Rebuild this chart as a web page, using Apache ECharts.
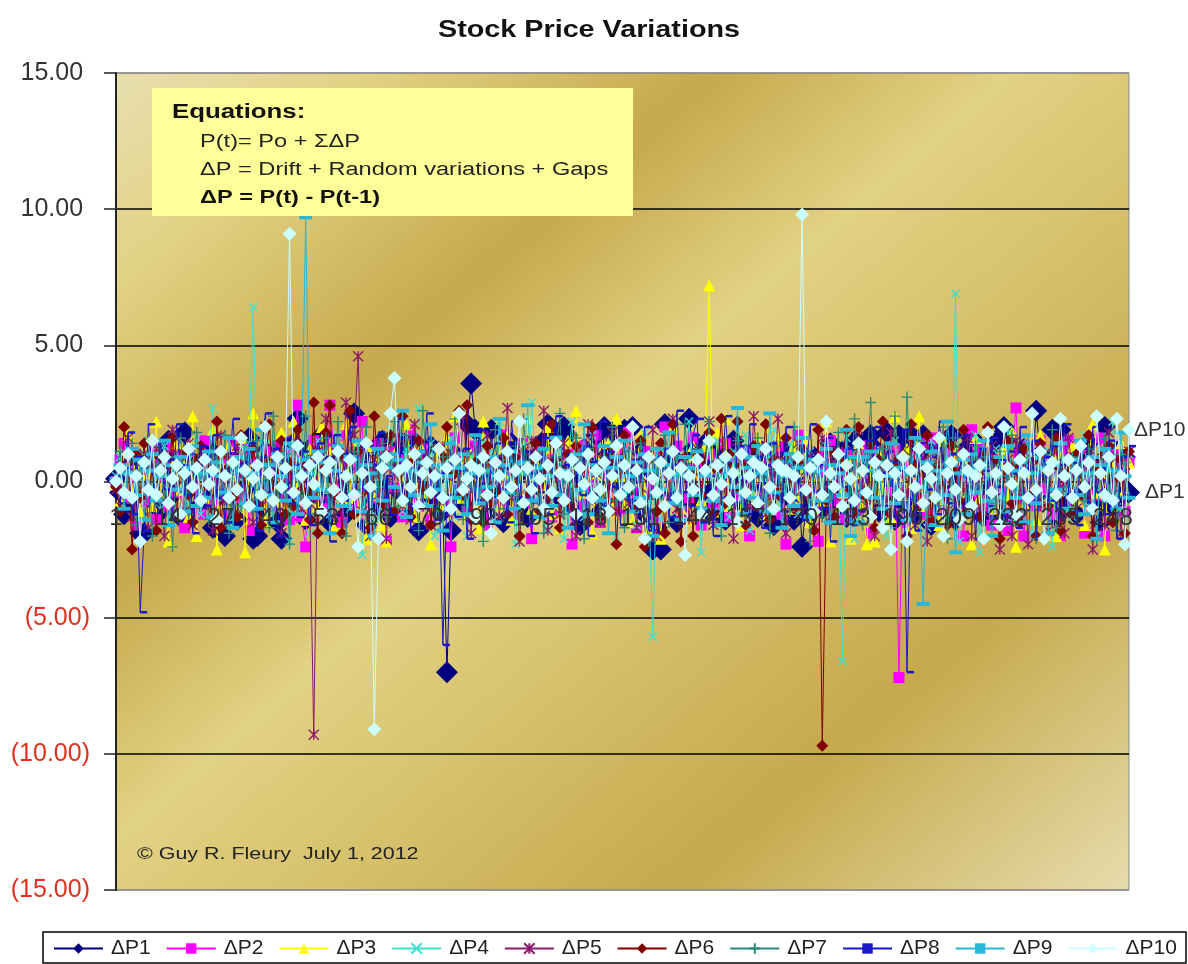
<!DOCTYPE html>
<html><head><meta charset="utf-8">
<script src="https://cdn.jsdelivr.net/npm/echarts@6/dist/echarts.min.js"></script>
<style>html,body{margin:0;padding:0;background:#fff}#c{width:1188px;height:964px}</style>
</head><body><div id="c"></div>
<script>
const title = "Stock Price Variations";
const yTicks = [-15,-10,-5,0,5,10,15];
const POINTS = 252;
const categories = Array.from({length:POINTS},(_,i)=>String(i+1));
const seriesNames = ["ΔP1","ΔP2","ΔP3","ΔP4","ΔP5","ΔP6","ΔP7","ΔP8","ΔP9","ΔP10"];

const p1 = [0.1,-0.4,-1.2,0.6,-0.9,1.3,-1.9,-1.2,0.4,-0.7,1.1,-1.1,0.3,1.5,-0.5,0.9,-1.3,1.8,-0.2,0.7,-1.0,
0.5,-0.6,1.2,-1.7,0.2,0.9,-2.0,-0.8,1.0,-1.4,0.6,-0.3,1.6,-2.1,0.4,-0.9,1.1,-0.1,0.8,-1.5,2.3,-0.6,0.3,1.4,
-1.1,0.7,-1.4,1.2,-0.4,0.9,1.7,-0.8,-1.5,0.2,1.0,-0.3,-1.2,0.6,2.5,-0.7,1.1,-1.6,0.4,0.8,-0.9,1.5,-0.2,-1.3,0.7,
1.2,-0.5,-1.0,1.6,0.3,-1.8,0.9,-0.4,1.3,-0.6,0.2,-1.1,-1.8,-1.8,1.0,0.5,-0.8,2.1,2.1,1.9,-0.3,0.7,-1.2,1.1,-0.5,
0.4,-1.5,0.9,1.4,-0.7,0.3,1.0,-1.3,0.6,0.9,-0.2,1.5,-1.0,1.9,0.4,-0.6,2.0,1.7,-0.9,0.2,-1.6,1.2,0.7,-0.4,1.7,
-1.1,0.5,1.0,-1.4,0.8,-0.3,1.9,-0.7,2.0,0.3,1.1,-1.2,0.6,-2.5,-1.7,1.3,2.1,-0.5,0.9,-1.5,0.4,-0.8,2.3,1.2,-0.6,
0.7,1.4,-1.1,-0.3,1.2,0.5,-1.4,0.9,1.5,-0.7,0.2,1.0,-0.9,0.6,-1.3,1.1,-0.2,0.8,-1.6,0.4,1.2,-0.5,0.7,-1.4,0.3,
1.3,-0.8,-1.2,0.9,0.4,-1.0,-0.4,1.4,-0.6,0.8,1.1,-1.3,0.5,1.5,-0.9,0.2,-0.6,1.7,1.2,-1.1,0.6,1.8,-0.3,-1.4,1.7,
-0.8,0.5,1.7,-1.2,0.9,-0.5,1.3,-1.6,0.3,1.0,-0.7,1.4,0.6,-1.4,0.2,1.1,-0.9,1.6,-0.4,0.7,-1.3,0.9,-0.2,1.5,-0.6,
2.0,1.6,-1.3,-0.4,0.8,1.2,-0.7,0.3,-1.3,1.0,-0.5,0.6,1.9,-0.3,0.9,-0.7,-0.4,
0.6,-1.2,1.0,-0.3,1.4,-0.8,0.5,-1.5,2.0,0.2,-0.9,1.1,-0.6,0.9,0.3,-1.0];
const p2 = [0.0,0.8,1.4,-0.6,0.4,-1.6,1.0,-0.7,0.3,1.2,-1.4,0.6,0.2,-0.9,1.3,-0.4,0.9,-1.7,1.1,-0.3,0.5,
-1.2,1.5,0.2,-0.8,1.0,-0.5,0.7,-1.1,1.4,0.3,-0.6,1.2,-1.8,0.9,0.4,-0.2,1.1,-0.9,0.5,1.3,-0.7,0.2,-1.4,1.0,
2.8,-1.3,-2.4,0.6,1.5,-0.5,0.9,-1.0,0.4,1.2,-0.3,-1.5,1.7,0.5,-0.8,0.9,2.2,-1.2,0.3,-0.6,1.4,0.7,-2.2,1.1,-0.2,
0.8,-1.3,0.4,1.9,-0.5,-0.9,1.2,0.6,-1.4,0.3,1.1,-0.7,0.5,-2.4,1.6,-0.3,0.9,-1.1,0.7,1.3,-0.4,0.2,-1.6,1.0,0.6,
-0.8,1.7,-0.2,0.4,-1.2,0.9,1.4,-0.6,-2.1,0.3,1.1,-0.5,0.8,-1.3,1.5,0.2,-0.7,1.0,-2.3,0.6,1.3,-0.9,0.4,-0.2,1.7,
-1.5,0.7,0.3,-0.6,1.2,-1.0,0.5,1.8,-0.4,-1.7,0.8,1.1,-0.3,0.6,-1.4,0.9,2.0,-0.7,0.2,1.3,-1.1,0.5,-0.6,1.6,0.7,
-1.6,0.3,1.0,-0.8,0.4,-0.2,1.4,-1.3,0.9,0.6,-0.5,1.1,-2.0,0.7,0.3,-0.9,1.2,-0.4,0.5,1.3,-1.2,-2.3,0.8,-0.6,1.7,
1.2,-0.3,0.6,-1.1,-2.2,0.9,0.4,1.5,-0.7,0.2,-1.4,1.0,-0.5,0.8,-1.0,1.3,0.3,-1.9,0.7,1.1,0.4,-0.4,0.6,1.2,-0.8,
0.5,-1.5,0.9,0.2,-0.6,1.4,-1.2,0.7,1.6,-0.3,-1.0,0.4,1.1,-0.7,0.8,-2.0,0.6,1.9,-0.5,1.2,-0.9,0.3,-1.6,0.8,0.5,
-0.4,-1.8,1.0,0.7,-0.6,-2.0,1.3,0.2,-0.9,1.5,-0.3,0.6,-1.2,0.9,-2.0,1.1,1.5,
-0.7,0.4,1.2,-1.9,0.6,0.2,-0.5,1.6,-2.0,0.9,-0.3,1.0,0.4,-1.1,0.7,1.5];
const p3 = [-0.1,-0.7,0.9,1.7,-0.4,0.5,-1.1,1.2,0.3,-0.9,2.2,-0.5,1.0,-2.2,0.6,1.4,-0.3,0.8,-1.3,2.4,-2.0,
1.1,-0.6,0.4,1.9,-2.5,0.7,-0.8,1.3,0.2,-1.2,1.6,-2.6,0.5,2.5,-0.4,1.0,-1.5,0.3,0.9,-0.7,1.8,-1.0,0.6,2.2,
-0.2,0.8,-1.4,1.2,0.5,-0.9,2.0,-0.3,1.1,-1.7,0.7,0.3,2.1,-0.6,1.5,-1.1,0.4,-2.1,1.3,-0.5,0.9,-1.6,-2.2,0.6,1.0,
0.2,-0.8,2.1,0.5,-1.3,1.4,-0.4,0.7,-2.3,1.1,0.3,-0.9,1.6,-0.2,2.4,-0.6,0.8,-1.2,1.0,0.4,-1.7,2.2,-0.5,0.6,1.2,
-0.9,0.3,1.7,-1.4,0.5,-0.3,1.3,2.3,-1.0,0.7,0.2,-0.6,2.0,-1.2,0.9,-1.7,0.4,1.5,-0.7,2.6,0.6,-0.4,1.1,-1.9,0.3,
0.8,-0.5,1.4,-1.1,2.3,0.2,-0.8,1.0,-1.5,0.6,1.7,-0.3,-1.8,0.7,0.4,-2.1,1.2,-0.6,2.0,0.5,-1.0,0.9,-1.4,1.3,0.3,
-0.7,1.3,0.6,-1.1,1.8,-0.4,2.3,-0.9,0.5,1.1,-1.6,0.3,0.8,-0.5,1.5,0.2,-1.2,2.0,0.7,1.7,-0.3,0.9,-1.0,1.3,-0.6,
0.4,1.6,-1.5,0.2,0.8,-0.7,2.2,-2.2,0.6,1.1,-0.4,0.9,-2.1,0.3,1.4,-0.8,-2.3,0.5,-2.2,1.0,-0.3,0.7,-1.3,2.4,0.2,
-0.5,1.2,-1.7,0.6,2.4,-0.9,0.3,1.0,-0.4,-1.6,1.5,0.5,-0.7,1.3,-1.1,0.8,0.2,-2.3,1.6,-0.6,0.4,1.9,-0.3,-1.0,0.7,
1.2,-0.5,1.8,-2.4,0.6,-0.8,1.1,0.3,-1.4,1.7,0.5,-0.6,1.0,-2.0,0.9,0.4,-0.2,
1.3,-0.7,0.5,-1.6,0.8,2.1,-0.4,0.3,-2.5,1.0,0.6,-0.9,1.4,-0.3,0.7,-1.1];
const p4 = [0.2,0.9,-0.5,0.4,-1.3,0.8,1.1,-0.7,1.5,-0.2,0.6,-1.0,1.3,-1.6,0.3,0.7,-0.4,1.0,-0.8,0.5,1.6,
-1.2,0.4,0.9,2.7,-0.6,1.1,-0.3,-1.5,0.7,0.2,1.2,-0.9,1.4,1.0,-0.5,0.8,1.6,-1.1,0.3,0.6,-0.4,1.3,-2.2,0.9,
0.1,-0.7,1.0,-1.9,0.5,1.5,-0.3,0.8,-1.2,0.4,1.7,-0.6,0.2,-1.0,0.9,1.3,-2.7,0.6,-0.5,1.1,-1.4,0.3,0.7,1.9,-0.8,
0.4,-1.1,1.2,-0.2,0.5,2.7,-0.9,0.6,1.4,-2.0,0.2,-0.5,0.8,1.6,-1.3,0.7,0.3,-2.0,1.0,-0.6,0.4,1.5,-0.8,1.1,-0.3,
2.2,0.5,-1.2,0.9,-2.3,0.6,1.3,-0.4,2.9,0.2,-0.7,1.0,-1.7,0.5,-0.3,1.2,-2.1,0.8,2.2,-0.6,0.4,-1.3,0.9,1.7,-0.2,
0.7,-1.0,0.3,1.4,-2.0,0.6,-0.5,1.1,0.2,-1.6,0.8,1.8,-0.7,-1.7,0.4,-1.4,0.5,1.3,-0.3,0.9,-1.1,0.6,2.2,-0.4,1.0,
-2.6,0.3,0.7,-0.9,1.5,-0.2,0.8,-1.3,1.1,0.4,-0.6,1.7,-1.8,0.5,0.2,1.2,-0.7,0.9,1.9,-1.0,0.3,-0.5,1.4,0.6,-1.2,
0.6,0.4,1.1,-0.8,0.7,-0.3,1.3,-1.5,0.2,0.9,-0.6,1.6,0.5,-2.1,1.0,-0.4,0.8,-1.1,0.3,1.2,-0.7,-2.0,0.6,1.5,-0.2,
0.4,-1.4,0.9,-0.5,1.1,0.7,-1.7,1.5,0.5,0.2,-0.8,1.3,-1.2,0.6,-2.2,1.0,0.3,-0.4,1.7,-2.6,0.8,0.4,-1.0,1.2,-0.6,
0.2,1.9,-1.5,0.7,-0.3,0.5,1.4,-1.9,0.9,-0.6,1.1,0.3,-2.4,0.7,1.5,-0.5,0.2,
-1.3,0.8,0.4,1.7,-0.9,0.5,-2.0,1.2,-0.4,0.6,2.2,-0.7,0.3,-1.4,1.0,0.5];
const p5 = [-0.3,-0.9,0.6,1.6,-1.3,0.3,-0.5,1.0,-1.7,0.8,1.2,-0.6,-2.0,0.4,1.9,-0.2,0.7,-1.1,1.4,-1.6,0.5,
1.1,-0.4,0.9,-1.8,0.2,1.7,-0.7,0.4,-1.2,1.3,0.6,-0.3,1.0,-1.5,0.8,-0.9,2.0,0.3,-0.6,1.2,-1.9,0.5,-0.4,1.5,
0.7,-1.0,0.2,-0.8,-1.0,1.1,-0.5,2.3,0.4,-1.3,0.9,-0.2,2.9,0.6,1.7,1.5,-1.1,0.3,-2.0,0.8,-0.5,1.4,-2.1,0.5,0.2,
1.6,-0.9,0.4,-1.4,2.1,-0.3,0.7,1.0,-1.6,0.5,-0.7,1.3,0.2,-1.1,0.9,-0.4,2.4,0.6,-1.9,1.2,0.3,-0.8,1.7,-0.2,0.5,
-1.3,0.8,2.7,-0.6,0.4,-2.2,1.1,-0.5,1.5,0.3,-0.9,2.6,-1.8,0.7,0.2,-1.2,1.4,-0.4,0.6,-2.0,1.0,0.5,2.1,-0.7,0.3,
-1.5,0.9,-0.2,1.8,-1.1,0.6,0.4,-0.8,1.3,-1.7,0.2,0.7,-0.5,1.9,-2.0,1.1,0.3,-0.6,2.3,-1.0,0.8,0.5,-1.4,0.4,1.2,
-0.3,0.9,2.2,-1.6,0.6,-0.7,1.0,0.2,-2.1,1.5,-0.4,0.7,-0.9,2.4,0.3,1.3,-1.2,0.5,-0.5,2.3,0.8,-1.9,0.2,-0.6,1.4,
-1.1,0.4,0.9,-1.7,0.6,1.6,-0.3,-1.3,0.7,1.1,-0.8,0.3,-1.4,0.5,1.9,-0.2,-0.9,1.2,-2.0,0.6,0.4,-0.7,1.8,-1.2,0.8,
0.2,-0.5,1.4,-1.6,0.9,0.3,-2.2,1.0,-0.4,0.6,1.7,-1.5,0.5,-0.8,1.2,-0.3,1.6,-2.0,0.7,0.4,-1.1,0.9,1.3,-0.6,-2.5,
0.2,0.8,-2.0,1.5,-0.4,1.1,-2.3,0.5,0.3,-0.9,1.0,-1.8,0.6,1.4,-0.2,-1.9,1.6,
0.4,-1.0,0.7,-0.3,1.2,-2.5,0.6,0.2,-1.6,1.8,-0.5,0.9,-1.9,0.3,1.1,-0.7];
const p6 = [-0.2,-1.1,2.0,0.7,-2.5,1.0,-0.6,1.4,-0.3,0.5,-1.8,0.9,0.3,-0.7,1.6,-1.2,0.4,1.1,-0.5,-1.5,0.8,
1.3,-0.2,0.6,-1.0,2.2,-1.7,0.4,0.9,-0.6,-1.3,1.7,0.2,-0.8,1.2,0.5,-1.6,0.8,2.1,-0.4,0.3,1.5,-1.2,0.7,-0.9,
1.9,-0.3,0.6,-1.4,2.9,-1.9,0.4,1.8,2.8,-0.5,0.9,-1.9,0.2,2.6,-1.2,1.1,-0.4,0.6,-1.7,2.4,0.3,-0.8,1.0,1.7,-1.1,
0.5,2.4,-0.6,-1.3,0.8,1.5,-0.2,0.4,-1.6,1.2,-0.7,0.9,2.0,-1.0,0.3,2.6,-0.5,2.8,-1.4,0.7,0.2,-1.5,1.3,-0.8,0.6,
-0.3,1.6,-1.2,0.5,0.9,-2.0,1.1,-0.4,0.7,1.4,-1.1,0.3,-0.6,2.1,0.8,-1.7,0.4,1.0,-0.9,1.3,-0.2,0.6,-1.5,2.0,0.5,
-1.3,0.9,-0.7,1.2,-2.3,0.3,1.7,-0.4,0.6,-1.0,1.5,-2.4,0.8,0.2,-1.1,1.4,-1.9,0.5,2.1,-0.6,-2.2,0.9,0.3,-2.0,1.1,
-0.5,0.7,1.8,-1.2,0.4,2.3,-0.8,1.0,-0.3,2.2,0.6,-1.6,0.2,1.3,-0.9,0.5,2.1,-1.4,0.8,-0.2,-0.6,1.6,0.4,-1.0,0.7,
1.2,-0.5,0.3,-1.8,1.9,0.6,-0.7,1.1,-1.3,0.4,0.9,1.9,-0.3,-1.1,2.0,0.5,-0.6,1.4,-1.7,0.8,2.2,0.2,-1.2,0.7,-0.4,
1.0,-2.0,2.1,0.6,-0.9,0.3,1.7,-1.4,0.5,0.9,-0.2,-1.6,1.3,0.4,-0.7,1.9,-1.1,0.6,0.2,-1.3,1.0,2.0,-0.5,0.8,-2.1,
0.3,1.5,-0.8,0.6,-1.5,1.2,-0.4,0.7,-2.0,1.4,0.2,-0.9,0.5,1.6,-1.8,0.4,0.7,
-1.2,1.0,0.3,-0.6,1.7,-2.0,0.5,0.9,-0.4,1.3,-1.5,0.2,0.8,-1.9,1.1,0.4];
const p7 = [0.1,1.1,-0.8,0.4,1.4,-1.6,0.7,-0.3,1.0,-2.0,0.5,1.3,-0.6,0.2,-2.4,0.9,1.6,-0.4,-1.2,0.6,1.8,
-0.7,0.3,-1.4,1.1,0.8,-0.5,1.7,-1.9,0.4,0.6,-0.9,1.2,0.2,-1.1,1.5,-0.3,0.7,-1.7,2.4,-0.6,0.5,1.0,-2.3,1.3,
0.3,-0.8,2.4,-1.2,0.6,0.9,-0.4,1.6,-1.0,0.2,2.2,-0.7,-2.0,0.5,1.1,-0.5,0.8,2.0,-1.5,0.3,-0.2,1.4,-1.3,0.7,2.2,
-0.9,0.4,1.7,-0.6,0.2,-1.8,2.6,0.5,-0.3,1.2,-1.1,0.9,0.4,-0.7,2.3,0.6,-1.4,1.0,-0.2,0.3,1.5,-2.2,0.7,-0.5,1.9,
0.4,-1.0,0.8,-0.4,1.3,-1.6,2.3,0.2,-0.8,0.6,1.1,-1.9,0.5,-0.3,0.9,2.5,-1.2,0.3,-0.6,1.6,0.7,-2.1,1.2,-0.4,0.5,
-1.3,0.9,0.2,2.0,-0.7,0.6,-1.7,1.1,-0.2,0.4,1.4,-1.1,-2.2,0.8,0.3,-0.5,1.7,-1.5,0.6,0.9,-0.9,2.1,0.4,-0.3,1.2,
-1.4,0.5,2.2,-0.6,0.7,-2.0,1.0,0.3,-0.8,1.5,-0.4,-1.2,0.9,0.2,1.6,-0.7,0.5,-1.9,1.3,0.4,-0.2,0.8,-1.1,2.0,0.6,
-0.5,1.1,-2.2,0.3,0.7,-1.3,1.4,-0.6,0.2,1.8,-1.0,0.9,-0.4,2.3,0.5,-1.6,0.6,2.9,-0.3,-0.8,1.2,0.4,-1.7,2.4,0.7,
-1.0,3.1,0.2,-0.7,1.5,-0.4,-1.3,0.6,1.0,-0.9,2.0,-2.1,0.3,1.6,-0.5,0.8,-1.2,0.4,1.3,-0.3,-2.1,0.9,0.6,-0.8,1.1,
-1.5,0.2,1.7,-0.4,0.7,-1.1,1.4,0.5,-2.1,0.3,1.0,-0.6,1.9,-1.7,0.4,0.8,-0.2,
0.9,-1.3,0.5,-0.7,1.2,0.2,-2.1,0.6,1.6,-0.4,0.3,-1.8,1.0,0.7,-0.6,1.3];
const p8 = [0.2,-0.8,0.5,1.8,-1.2,0.9,-1.3,-1.8,2.1,0.4,-0.7,1.5,-0.3,0.8,-1.4,2.1,0.6,-0.5,1.0,-1.9,0.3,
1.3,-0.9,0.2,1.7,-0.6,1.1,-1.5,0.4,2.3,-0.2,0.7,-1.0,1.4,0.5,-1.8,0.9,2.5,-0.4,1.2,-2.0,0.3,1.6,-0.8,0.6,
-1.3,1.1,0.2,-1.6,0.7,1.4,-0.5,0.9,-2.2,1.7,0.3,-0.7,1.0,2.0,-1.1,0.4,-0.3,1.3,-2.1,0.6,1.8,-0.6,0.2,-1.2,0.8,
2.3,-0.4,0.5,-1.7,1.1,0.7,-0.9,2.5,-0.2,-1.4,0.3,1.5,-0.5,0.9,-1.3,0.4,1.2,-2.1,0.6,-0.7,1.9,0.2,-1.0,0.8,1.4,
-0.3,0.5,-1.5,2.2,0.7,-0.6,1.1,0.3,-1.9,0.9,-0.4,1.6,-1.2,0.2,2.4,-0.8,0.6,1.0,-1.4,0.4,-0.5,1.3,-2.0,0.7,0.3,
2.2,-0.9,1.1,-0.2,0.5,-1.6,1.5,-0.7,0.8,-1.1,0.4,2.0,-1.8,0.2,0.9,-0.5,1.2,-1.3,0.6,2.6,-0.4,0.3,-0.9,1.7,2.3,
-1.5,0.7,0.2,-2.0,1.0,-0.6,2.4,0.4,-0.8,1.3,0.5,-1.2,2.1,-0.3,0.9,-1.7,0.6,1.4,-0.5,0.2,-1.1,2.0,-0.7,0.8,1.1,
-1.4,0.3,2.1,-0.4,0.6,-1.0,1.6,-2.2,0.5,0.9,-0.2,1.2,-1.6,-0.7,-1.1,0.3,1.5,-0.6,2.0,0.3,-0.9,1.1,0.7,-1.3,0.4,
1.9,-0.5,0.2,-1.8,1.4,0.6,-0.3,0.9,-1.2,2.2,0.5,-0.8,1.0,-1.5,0.3,1.7,-0.4,0.7,-2.1,1.2,0.4,-0.9,1.6,-0.2,0.8,
-1.3,1.1,0.3,-1.7,2.0,-0.6,0.5,1.5,-2.1,0.2,0.9,-0.7,1.3,-1.0,0.6,2.1,-0.4,
0.7,-1.6,1.2,0.3,-0.8,2.0,-0.4,0.5,-1.2,1.5,0.2,-2.1,0.9,-0.5,1.3,0.6];
const p9 = [0.1,0.6,-1.0,0.3,1.2,-0.5,0.8,-1.4,0.4,1.0,-0.7,0.2,1.5,-1.6,0.6,-0.3,0.9,-1.1,0.5,1.3,-0.9,
0.3,-0.6,1.1,-1.3,0.7,0.2,-0.4,1.6,-1.7,0.9,0.4,-0.8,1.2,0.3,-1.0,1.9,-0.5,0.6,-1.5,1.0,0.2,-0.7,1.4,0.5,
-1.2,0.8,0.5,0.3,-0.6,1.1,-0.3,0.7,-1.9,0.4,1.3,-0.9,0.2,0.9,-0.4,1.5,-1.1,0.6,0.3,-2.0,1.2,-0.7,0.5,1.0,-0.2,
0.8,2.6,-1.3,0.4,-0.5,1.1,0.7,-0.9,2.1,-0.3,0.6,-1.8,0.2,1.4,-0.6,0.5,1.0,-1.2,0.3,1.7,-0.8,0.4,-0.2,0.9,-1.5,
2.3,0.6,-0.4,1.1,-1.0,0.3,0.7,2.8,-0.7,0.5,-1.3,1.2,0.2,-0.9,1.6,-0.5,0.4,-1.7,0.8,1.0,-0.3,2.1,-1.2,0.6,0.3,
-0.7,1.3,-1.9,0.5,0.9,-0.4,1.5,0.2,-1.1,0.7,-0.6,1.0,0.4,-2.0,1.2,-0.3,0.6,1.8,-0.8,0.3,-1.4,0.9,0.5,-0.5,1.1,
-1.0,0.2,1.4,-0.7,0.6,-1.6,0.8,0.4,-0.2,2.7,-1.2,0.5,0.9,-0.6,1.3,0.3,-1.1,2.5,-0.4,0.7,-1.7,0.2,1.0,-0.9,0.5,
1.6,-0.3,-1.3,0.8,0.4,-0.7,1.2,-1.5,0.6,0.3,-0.5,1.9,-2.0,0.9,-1.5,0.9,0.4,1.1,-0.6,0.7,-1.0,0.2,1.4,-0.8,0.5,
0.9,-1.4,0.3,1.6,-0.2,-0.9,0.7,1.1,-1.6,0.4,-0.5,2.2,0.6,-2.6,0.3,0.8,-1.2,1.0,-0.4,0.5,1.5,-0.7,-2.0,0.2,0.9,
-1.1,1.3,0.4,-0.6,0.7,-1.5,1.7,0.3,-0.8,1.1,0.5,-1.9,0.6,-0.3,1.4,0.2,-1.0,
0.8,-0.5,1.5,-1.2,0.3,0.9,-2.1,0.6,1.2,-0.7,0.4,-1.0,1.8,0.2,-0.6,0.9];
const p10 = [0.0,0.5,-0.4,1.0,-0.6,0.2,-2.2,0.7,-0.3,1.5,-0.5,0.4,0.9,-0.8,0.1,0.6,-1.2,0.3,1.2,-0.2,0.5,
-0.7,0.8,-0.1,0.4,-1.4,1.1,0.2,-0.6,0.7,-0.3,1.6,0.4,-0.9,0.1,0.6,-0.5,2.0,0.3,-0.7,0.9,-0.2,0.5,1.0,-0.4,
1.3,0.2,-0.8,0.6,-0.1,0.9,-1.1,0.4,0.7,-0.3,1.1,-0.6,0.2,0.8,-0.5,-2.4,0.3,1.4,-0.2,-0.6,-2.1,0.5,0.9,2.5,1.0,
0.4,-0.7,0.6,-0.2,1.0,-0.9,0.3,0.7,-0.4,0.2,1.2,-0.6,0.5,-1.0,0.8,2.5,-0.3,0.1,0.6,-1.3,0.4,0.9,-0.5,-1.9,0.7,
0.2,-0.6,1.1,-0.2,0.4,2.2,-0.8,0.5,-0.3,0.9,0.1,-1.0,0.6,-0.4,1.4,0.3,-0.7,0.2,0.8,-1.2,0.5,-0.1,1.0,-0.6,0.4,
-0.3,0.7,-1.1,0.2,1.3,-0.5,0.6,-0.2,2.0,0.4,-0.8,-2.1,0.9,0.1,-0.4,0.7,-0.9,0.3,1.1,-0.6,0.5,-2.7,0.2,-0.3,0.8,
-1.2,0.4,1.5,-0.5,0.6,-0.1,0.9,-0.7,0.3,-1.5,1.0,-0.4,0.2,0.7,-0.8,0.5,1.2,-0.2,-1.0,0.6,0.4,0.4,-0.6,0.2,0.9,
1.7,-0.3,0.5,-1.1,0.8,-0.5,2.2,0.3,-0.2,1.0,-0.9,0.6,0.1,-0.7,1.4,0.4,-0.4,-1.3,0.7,0.2,-1.7,0.6,-2.5,0.3,-0.5,
0.9,-2.2,0.4,-0.2,1.2,-0.8,0.5,0.1,-0.6,1.6,-2.0,0.3,0.7,-0.3,-1.4,1.0,0.4,-0.9,0.2,0.6,-2.1,1.8,-0.4,0.3,-1.6,
2.0,0.5,-0.1,-1.2,0.8,0.3,-0.6,2.5,-0.3,1.1,-2.1,0.4,0.7,-0.5,2.3,0.2,0.8,
-0.6,0.4,1.3,-0.2,0.7,-1.0,2.4,0.3,-0.5,0.9,-0.7,2.3,0.2,-0.4,0.6,1.1];

// point number and value of each large gap or notable extreme
const gapsP1 = [[6,-1.2],[8,-1.9],[28,-2.0],[36,-2.0],[42,-2.1],[46,2.3],[60,2.5],[83,-7.0],[89,3.6],[94,1.9],[108,2.1],[109,1.8],[122,2.0],[124,1.8],[136,-2.5],[137,2.1],[143,2.3],[151,1.3],[171,-2.4],[197,1.2],[201,1.7],[208,1.7],[220,-1.3],[229,2.6],[234,-1.3],[235,1.9],[252,-0.4]];
const gapsP2 = [[54,2.8],[195,-7.2],[224,2.7]];
const gapsP3 = [[35,2.5],[148,7.2]];
const gapsP4 = [[35,6.4],[134,-5.7],[181,-6.6],[209,6.9]];
const gapsP5 = [[50,-9.3],[61,4.6]];
const gapsP6 = [[176,-9.7]];
const gapsP7 = [];
const gapsP8 = [[7,-4.8],[82,-6.0],[197,-7.0]];
const gapsP9 = [[48,9.7],[201,-4.5]];
const gapsP10 = [[44,9.1],[65,-9.1],[70,3.8],[171,9.8],[251,-2.3],[252,1.9]];

const baseData = [p1,p2,p3,p4,p5,p6,p7,p8,p9,p10];
const gapData = [gapsP1,gapsP2,gapsP3,gapsP4,gapsP5,gapsP6,gapsP7,gapsP8,gapsP9,gapsP10];
const seriesData = baseData.map((b,i)=>{
  const d = categories.map((_,k)=>b[k]===undefined?null:b[k]);
  gapData[i].forEach(g=>{d[g[0]-1]=g[1];});
  return d;
});
const seriesColors = ["#000080","#ff00ff","#ffff00","#3fe0d0","#8b1a6b","#800000","#2a8a78","#1818c8","#28b8d8","#ccffff"];
const X = 'path://M0 0L10 10M10 0L0 10';
const STAR = 'path://M0 0L10 10M10 0L0 10M5 0L5 10';
const PLUS = 'path://M5 0L5 10M0 5L10 5';
const symbols = ['diamond','rect','triangle',X,STAR,'diamond',PLUS,'rect','rect','diamond'];
const sizes = [22,11,12,8,10,12,11,[7,2.5],[13,4],14];
const offsets = [null,null,null,null,null,null,null,[3.5,0],null,null];
const stroked = [false,false,false,true,true,false,true,false,false,false];
const labelled = {0:16, 9:5};

const chart = echarts.init(document.getElementById('c'), null, {renderer:'canvas'});
const FONT = '"Liberation Sans", Arial, sans-serif';
chart.setOption({
  animation:false,
  backgroundColor:'#fff',
  grid:{left:116,right:59,top:73,bottom:74,show:true,borderColor:'#8a8a8a',borderWidth:1,
    backgroundColor:{type:'linear',x:116,y:73,x2:947,y2:1045,global:true,colorStops:[
      {offset:0,color:'#e8dfb0'},{offset:0.127,color:'#e2d284'},{offset:0.304,color:'#c6a94c'},
      {offset:0.454,color:'#e2d284'},{offset:0.768,color:'#c6a94c'},{offset:1,color:'#e6dcac'}]}},
  legend:{left:43,right:0,top:933,orient:'horizontal',padding:[5,2,5,10],itemWidth:49,itemHeight:13,itemGap:15,
    data:seriesNames,textStyle:{fontFamily:FONT,fontSize:21,color:'#222',padding:[0,0,0,3]}},
  xAxis:{type:'category',data:categories,boundaryGap:false,z:50,
    axisLine:{show:false},axisTick:{show:false},
    axisLabel:{interval:12,margin:-384,fontFamily:FONT,fontSize:24,color:'#333'},splitLine:{show:false}},
  yAxis:{type:'value',min:yTicks[0],max:yTicks[yTicks.length-1],interval:5,z:0,
    axisLine:{show:true,lineStyle:{color:'#222',width:2}},
    axisTick:{show:true,length:12,lineStyle:{color:'#222',width:1.5}},
    axisLabel:{margin:26,fontFamily:FONT,fontSize:25,
      color:v=>v<0?'#e0301e':'#333',
      formatter:v=>v<0?'('+Math.abs(v).toFixed(2)+')':v.toFixed(2)+'\u00A0'},
    splitLine:{show:true,lineStyle:{color:['#8a8a8a','#000','#000','#000','#000','#000','#8a8a8a'],width:1.5}}},
  series:seriesNames.map((n,i)=>({
    name:n,type:'line',data:seriesData[i],z:2+i,
    symbol:symbols[i],symbolSize:sizes[i],symbolOffset:offsets[i]||[0,0],showSymbol:true,showAllSymbol:true,clip:false,
    lineStyle:{color:seriesColors[i],width:1},
    itemStyle:stroked[i]?{color:seriesColors[i],borderColor:seriesColors[i],borderWidth:1.4}:{color:seriesColors[i]},
    emphasis:{disabled:true},
    endLabel:labelled[i]!==undefined?{show:true,formatter:n,distance:labelled[i],fontFamily:FONT,fontSize:21,color:'#333'}:{show:false}
  })),
  graphic:[
    {type:'text',z:201,x:438,y:19,scaleX:1.25,style:{text:title,fontFamily:FONT,fontSize:23,fontWeight:'bold',fill:'#111'}},
    {type:'rect',z:0,shape:{x:43,y:932,width:1143,height:31},style:{fill:'#fff',stroke:'#000',lineWidth:1.5}},
    {type:'rect',z:200,shape:{x:152,y:88,width:481,height:128},style:{fill:'#ffff99'}},
    {type:'text',z:201,x:172,y:102,scaleX:1.29,style:{text:'Equations:',fontFamily:FONT,fontSize:20,fontWeight:'bold',fill:'#111'}},
    {type:'text',z:201,x:200,y:133,scaleX:1.31,style:{text:'P(t)= Po + ΣΔP',fontFamily:FONT,fontSize:18,fill:'#222'}},
    {type:'text',z:201,x:200,y:161,scaleX:1.31,style:{text:'ΔP = Drift + Random variations + Gaps',fontFamily:FONT,fontSize:18,fill:'#222'}},
    {type:'text',z:201,x:200,y:189,scaleX:1.31,style:{text:'ΔP = P(t) - P(t-1)',fontFamily:FONT,fontSize:18,fontWeight:'bold',fill:'#111'}},
    {type:'text',z:201,x:137,y:847,scaleX:1.34,style:{text:'© Guy R. Fleury  July 1, 2012',fontFamily:FONT,fontSize:16,fill:'#222'}}
  ]
});
</script></body></html>
